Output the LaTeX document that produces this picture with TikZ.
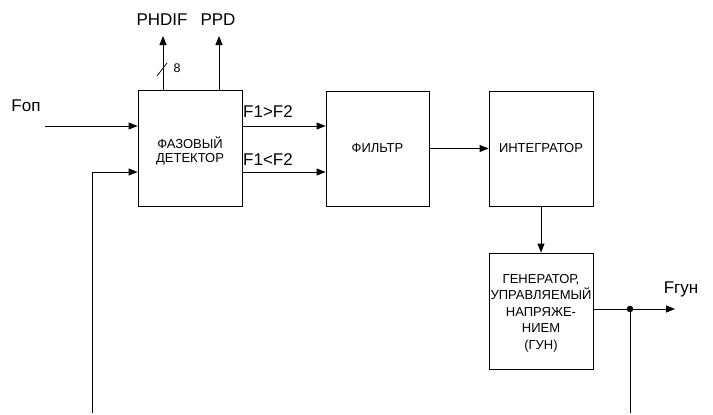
\documentclass[tikz,border=0pt]{standalone}
\usepackage{fontspec}
\setmainfont{Liberation Sans}
\usetikzlibrary{arrows.meta}
\begin{document}
\begin{tikzpicture}[x=1pt,y=-1pt, line width=0.9pt,
  blk/.style={draw, minimum width=104pt, minimum height=116pt, inner sep=0pt, align=center, font=\fontsize{13}{15}\selectfont},
  arr/.style={-{Triangle[length=9pt,width=7pt]}},
  lbl/.style={inner sep=0pt, font=\fontsize{17}{19}\selectfont}]
\useasboundingbox (0,0) rectangle (713,415);
\node[blk] (pd) at (190,148.5) {};
\node[inner sep=0pt, align=center, font=\fontsize{13}{14.5}\selectfont] (pdt) at (190,151) {ФАЗОВЫЙ\\ДЕТЕКТОР};
\node[blk, minimum width=103pt, minimum height=115pt] (flt) at (377.5,148.5) {ФИЛЬТР};
\node[blk, minimum height=115pt] (int) at (541,148.5) {ИНТЕГРАТОР};
\node[blk] (vco) at (541,311) {};
\node[inner sep=0pt, align=center, font=\fontsize{13}{16.5}\selectfont] (vcot) at (541,313) {ГЕНЕРАТОР,\\УПРАВЛЯЕМЫЙ\\НАПРЯЖЕ-\\НИЕМ\\(ГУН)};
% inputs
\coordinate (fin) at (45,126);
\draw[arr] (fin) -- (fin -| pd.west);
\coordinate (fb) at (92,413);
\coordinate (fbin) at (92,172);
\draw[arr] (fb) -- (fbin) -- (fbin -| pd.west);
\node[lbl] (fonl) at (26,106) {Fоп};
% outputs up
\coordinate (ph0) at (163,90);
\coordinate (ph1) at (163,36);
\draw[arr] (ph0) -- (ph1);
\coordinate (pp0) at (219,90);
\coordinate (pp1) at (219,36);
\draw[arr] (pp0) -- (pp1);
\coordinate (s0) at (157,76);
\coordinate (s1) at (167,63);
\draw[line width=0.7pt] (s0) -- (s1);
\node[inner sep=0pt, font=\fontsize{12.5}{14}\selectfont] (eight) at (177,68) {8};
\node[lbl] (phl) at (162,20) {PHDIF};
\node[lbl] (ppl) at (218,20) {PPD};
% pd -> filter
\coordinate (o1) at (242,126);
\coordinate (o2) at (242,172);
\draw[arr] (o1) -- (o1 -| flt.west);
\draw[arr] (o2) -- (o2 -| flt.west);
\node[lbl] (g1) at (268,112) {F1>F2};
\node[lbl] (g2) at (268,160) {F1<F2};
% filter -> integrator
\draw[arr] (flt.east) -- (int.west);
% integrator -> vco
\draw[arr] (int.south) -- (vco.north);
% vco output
\coordinate (vo) at (593,309);
\coordinate (dot) at (630,309);
\coordinate (fend) at (675,309);
\coordinate (fbot) at (630,413);
\draw[arr] (vo) -- (fend);
\draw (dot) -- (fbot);
\fill (dot) circle (3.3pt);
\node[lbl] (fgl) at (681,289) {Fгун};
\end{tikzpicture}
\end{document}
